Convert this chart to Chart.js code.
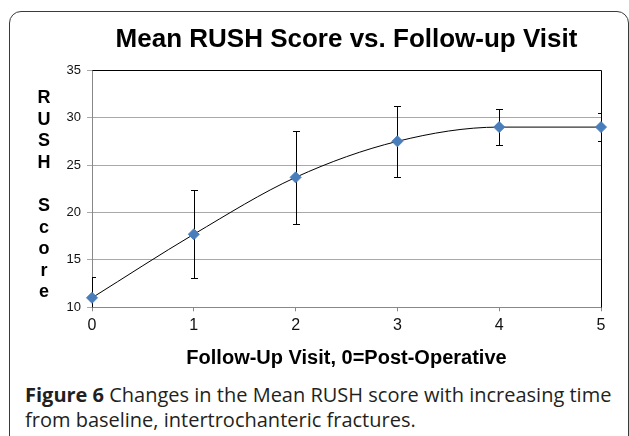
<!DOCTYPE html>
<html>
<head>
<meta charset="utf-8">
<script src="https://cdn.jsdelivr.net/npm/chart.js@4/dist/chart.umd.min.js"></script>
<style>
  html, body {
    margin: 0;
    padding: 0;
    width: 629px;
    height: 436px;
    overflow: hidden;
    background: #fff;
  }
  .frame {
    position: absolute;
    left: 9px;
    top: 11px;
    width: 620px;
    height: 470px;
    border: 1.5px solid #3a3a3a;
    border-radius: 12px;
    box-sizing: border-box;
  }
  .chart-box {
    position: absolute;
    left: 0;
    top: 0;
    width: 629px;
    height: 372px;
  }
  .caption {
    position: absolute;
    left: 25px;
    top: 382px;
    font-family: 'Open Sans', sans-serif;
    font-size: 20px;
    line-height: 25px;
    color: #231f20;
    white-space: nowrap;
  }
  .caption b {
    font-weight: 700;
  }
</style>
</head>
<body>
<div class="frame"></div>
<div class="chart-box"><canvas id="rushChart"></canvas></div>
<div class="caption"><b>Figure 6</b> Changes in the Mean RUSH score with increasing time<br>from baseline, intertrochanteric fractures.</div>

<script>
const visits = [0, 1, 2, 3, 4, 5];
const meanScore = [11.0, 17.7, 23.7, 27.5, 29.0, 29.0];
const errorSize = [2.2, 4.65, 4.9, 3.75, 1.9, 1.45];
const yTicks = [10, 15, 20, 25, 30, 35];
const yTitle = 'RUSH Score';

const FONT = "'Liberation Sans', Arial, sans-serif";

// error bars, clipped to the plot like Excel does
const errorBars = {
  id: 'errorBars',
  beforeDatasetsDraw(chart) {
    const { ctx, chartArea, scales } = chart;
    ctx.save();
    ctx.beginPath();
    ctx.rect(chartArea.left, chartArea.top, chartArea.right - chartArea.left, chartArea.bottom - chartArea.top);
    ctx.clip();
    ctx.strokeStyle = '#000';
    ctx.lineWidth = 1;
    visits.forEach((v, i) => {
      const x = Math.round(scales.x.getPixelForValue(v)) + 0.5;
      const top = Math.round(scales.y.getPixelForValue(meanScore[i] + errorSize[i])) + 0.5;
      const bot = Math.round(scales.y.getPixelForValue(meanScore[i] - errorSize[i])) + 0.5;
      ctx.beginPath();
      ctx.moveTo(x, top);
      ctx.lineTo(x, bot);
      ctx.moveTo(x - 3.5, top);
      ctx.lineTo(x + 3.5, top);
      ctx.moveTo(x - 3.5, bot);
      ctx.lineTo(x + 3.5, bot);
      ctx.stroke();
    });
    ctx.restore();
  }
};

// black top and right edges of the plot area
const plotFrame = {
  id: 'plotFrame',
  beforeDatasetsDraw(chart) {
    const { ctx, chartArea } = chart;
    const l = Math.round(chartArea.left) + 0.5;
    const t = Math.round(chartArea.top) + 0.5;
    const r = Math.round(chartArea.right) + 0.5;
    const b = Math.round(chartArea.bottom) + 0.5;
    ctx.save();
    ctx.strokeStyle = '#000';
    ctx.lineWidth = 1;
    ctx.beginPath();
    ctx.moveTo(l, t);
    ctx.lineTo(r, t);
    ctx.lineTo(r, b);
    ctx.stroke();
    ctx.restore();
  }
};

// stacked, upright letters for the y axis title
const stackedTitle = {
  id: 'stackedTitle',
  afterDraw(chart) {
    const { ctx } = chart;
    ctx.save();
    ctx.font = `bold 18px ${FONT}`;
    ctx.fillStyle = '#000';
    ctx.textAlign = 'center';
    ctx.textBaseline = 'middle';
    yTitle.split('').forEach((ch, i) => {
      ctx.fillText(ch, 44, 98 + i * 21.6);
    });
    ctx.restore();
  }
};

document.addEventListener('DOMContentLoaded', () => {
  const ctx = document.getElementById('rushChart');

  new Chart(ctx, {
    type: 'line',
    data: {
      datasets: [{
        data: visits.map((v, i) => ({ x: v, y: meanScore[i] })),
        borderColor: '#000',
        borderWidth: 1,
        cubicInterpolationMode: 'monotone',
        pointStyle: 'rectRot',
        pointRadius: 5.5,
        pointBackgroundColor: '#4a7ebb',
        pointBorderColor: '#4a7ebb',
        pointBorderWidth: 1,
        clip: false
      }]
    },
    options: {
      responsive: true,
      maintainAspectRatio: false,
      animation: false,
      layout: {
        padding: { left: 0, right: 28, top: 12, bottom: 2 }
      },
      scales: {
        x: {
          type: 'linear',
          min: 0,
          max: 5,
          ticks: {
            stepSize: 1,
            padding: 5,
            color: '#111',
            font: { family: FONT, size: 16 }
          },
          grid: {
            drawOnChartArea: false,
            color: '#888',
            tickLength: 4
          },
          border: { color: '#888' },
          title: {
            display: true,
            text: 'Follow-Up Visit, 0=Post-Operative',
            color: '#000',
            font: { family: FONT, size: 20, weight: 'bold' },
            padding: { top: 5.5, bottom: 0 }
          }
        },
        y: {
          min: 10,
          max: 35,
          afterBuildTicks: (s) => {
            s.ticks = yTicks.map((v) => ({ value: v }));
          },
          afterFit: (s) => {
            s.width = 92;
          },
          ticks: {
            padding: 6,
            color: '#111',
            font: { family: FONT, size: 13 }
          },
          grid: {
            color: '#a8a8a8',
            tickLength: 5
          },
          border: { color: '#888' }
        }
      },
      plugins: {
        legend: { display: false },
        tooltip: { enabled: false },
        title: {
          display: true,
          fullSize: false,
          text: 'Mean RUSH Score vs. Follow-up Visit',
          color: '#000',
          font: { family: FONT, size: 26, weight: 'bold' },
          padding: { top: 12, bottom: 15 }
        }
      }
    },
    plugins: [errorBars, plotFrame, stackedTitle]
  });
});
</script>
</body>
</html>
